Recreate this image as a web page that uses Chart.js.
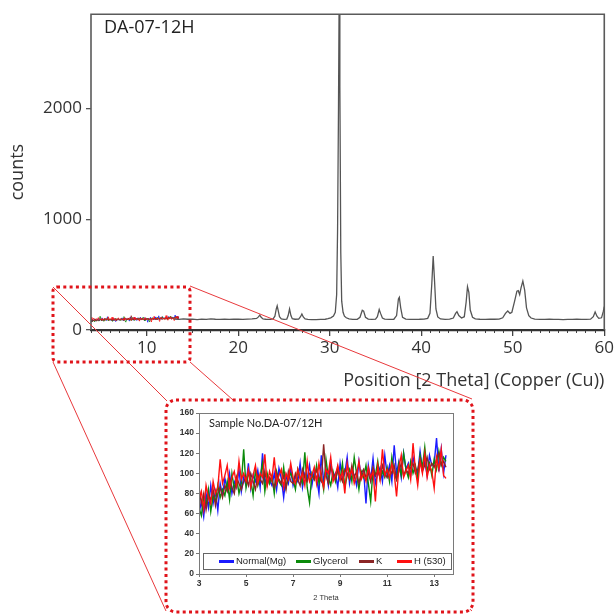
<!DOCTYPE html>
<html>
<head>
<meta charset="utf-8">
<script src="https://cdn.jsdelivr.net/npm/chart.js@4/dist/chart.umd.min.js"></script>
<style>
  html, body { margin:0; padding:0; background:#fff; }
  #wrap { position:relative; width:616px; height:614px; overflow:hidden; background:#fff; }
  #mainCanvas { position:absolute; left:0; top:0; }
  #links { position:absolute; left:0; top:0; }
  #inset { position:absolute; left:166px; top:400px; width:307px; height:212px; background:#fff; border-radius:10px; }
  #insetCanvas { position:absolute; left:0; top:0; }
  #insetBorder { position:absolute; left:0; top:0; pointer-events:none; }
</style>
</head>
<body>
<div id="wrap">
  <canvas id="mainCanvas" width="616" height="400"></canvas>
  <svg id="links" width="616" height="614">
    <g stroke="#e8393c" stroke-width="1" fill="none">
      <line x1="190" y1="286" x2="472" y2="399"/>
      <line x1="53" y1="287" x2="167" y2="401"/>
      <line x1="53" y1="362" x2="166" y2="611"/>
      <line x1="190" y1="362" x2="472" y2="611"/>
    </g>
    <rect x="53" y="287" width="137" height="75" rx="4" ry="4" fill="none" stroke="#e0141b" stroke-width="3" stroke-dasharray="3 3.3"/>
  </svg>
  <div id="inset"><canvas id="insetCanvas" width="307" height="212"></canvas></div>
  <svg id="insetBorder" width="616" height="614">
    <rect x="166" y="400" width="307" height="212" rx="10" ry="10" fill="none" stroke="#e0141b" stroke-width="3" stroke-dasharray="3 3.3"/>
  </svg>
</div>
<script>
// ---------------- DATA ----------------
// main XRD scan: [2theta, counts]
const mainScan = [
  [13.0,98],[13.5,96],[14.0,101],[14.5,97],[15.0,99],[15.5,94],[16.0,98],[16.5,96],[17.0,100],[17.5,97],
  [18.0,95],[18.5,98],[19.0,96],[19.5,99],[20.0,97],[20.5,95],[21.0,98],[21.5,100],[22.0,104],[22.2,118],
  [22.35,135],[22.5,115],[22.7,100],[23.0,97],[23.5,96],[23.8,101],[24.0,125],[24.15,190],[24.25,218],[24.35,180],
  [24.5,120],[24.7,101],[25.0,96],[25.3,99],[25.45,130],[25.6,190],[25.75,130],[25.9,102],[26.2,97],[26.6,98],
  [26.8,120],[26.95,145],[27.1,118],[27.3,100],[27.6,95],[28.0,94],[28.5,93],[29.0,95],[29.5,97],[29.8,102],
  [30.1,110],[30.4,125],[30.6,160],[30.75,320],[30.85,900],[30.95,2000],[31.02,3000],[31.1,2200],[31.2,700],[31.3,260],
  [31.45,160],[31.6,125],[31.8,110],[32.1,100],[32.5,96],[33.0,97],[33.3,115],[33.55,178],[33.7,170],[33.9,115],
  [34.2,98],[34.6,96],[35.0,98],[35.2,120],[35.4,185],[35.55,150],[35.75,108],[36.0,98],[36.5,96],[37.0,97],
  [37.3,130],[37.5,280],[37.6,295],[37.75,200],[37.95,115],[38.3,98],[38.8,95],[39.3,96],[39.8,97],[40.3,99],
  [40.7,105],[40.95,150],[41.15,420],[41.3,668],[41.45,440],[41.6,190],[41.8,118],[42.1,100],[42.6,96],[43.1,98],
  [43.5,108],[43.75,150],[43.9,165],[44.1,130],[44.4,108],[44.7,120],[44.9,250],[45.05,390],[45.2,340],[45.35,180],
  [45.6,115],[45.9,100],[46.4,97],[47.0,96],[47.5,98],[48.0,97],[48.5,99],[48.9,110],[49.2,150],[49.45,172],
  [49.7,150],[49.9,160],[50.2,260],[50.45,350],[50.6,355],[50.75,320],[50.9,380],[51.1,442],[51.3,360],[51.5,200],
  [51.75,130],[52.0,108],[52.4,98],[53.0,96],[53.5,95],[54.0,97],[54.5,95],[55.0,96],[55.5,94],[56.0,96],
  [56.5,95],[57.0,97],[57.5,95],[58.0,96],[58.5,98],[58.8,120],[59.0,162],[59.2,125],[59.4,105],[59.7,110],
  [59.9,170],[60.0,210]
];
const mainXTicks = [10, 20, 30, 40, 50, 60];
const mainXMinorTicks = [4,5,6,7,8,9,10,11,12,13,14,15,16,17,18,19,20,21,22,23,24,25,26,27,28,29,30,31,32,33,34,35,36,37,38,39,40,41,42,43,44,45,46,47,48,49,50,51,52,53,54,55,56,57,58,59,60];
const mainYTicks = [0, 1000, 2000];

// inset low-angle scans
const insetTheta = [
  3.0,3.1,3.2,3.3,3.4,3.5,3.6,3.7,3.8,3.9,
  4.0,4.1,4.2,4.3,4.4,4.5,4.6,4.7,4.8,4.9,
  5.0,5.1,5.2,5.3,5.4,5.5,5.6,5.7,5.8,5.9,
  6.0,6.1,6.2,6.3,6.4,6.5,6.6,6.7,6.8,6.9,
  7.0,7.1,7.2,7.3,7.4,7.5,7.6,7.7,7.8,7.9,
  8.0,8.1,8.2,8.3,8.4,8.5,8.6,8.7,8.8,8.9,
  9.0,9.1,9.2,9.3,9.4,9.5,9.6,9.7,9.8,9.9,
  10.0,10.1,10.2,10.3,10.4,10.5,10.6,10.7,10.8,10.9,
  11.0,11.1,11.2,11.3,11.4,11.5,11.6,11.7,11.8,11.9,
  12.0,12.1,12.2,12.3,12.4,12.5,12.6,12.7,12.8,12.9,
  13.0,13.1,13.2,13.3,13.4,13.5
];
const normalMg = [
  60,72,57,80,66,88,70,82,63,90,
  78,95,84,100,80,92,86,104,82,96,
  88,110,85,98,92,103,86,120,90,97,
  93,88,100,84,105,95,76,98,90,104,
  88,97,92,110,86,100,95,108,88,102,
  96,80,118,92,104,88,112,95,100,86,
  110,94,100,116,90,104,98,88,112,96,
  102,70,108,94,115,90,100,106,92,118,
  98,108,92,128,100,112,96,120,104,110,
  98,116,106,100,122,104,112,98,118,108,
  110,135,102,124,100,118
];
const glycerol = [
  66,58,76,68,84,62,78,72,88,76,
  84,78,92,74,100,84,96,80,90,124,
  86,100,94,78,104,88,96,110,82,100,
  90,98,80,102,92,88,106,86,96,100,
  94,84,104,96,90,121,86,71,100,94,
  108,90,98,84,114,96,88,102,92,106,
  94,110,86,98,104,92,116,100,84,102,
  96,108,90,72,104,98,112,94,102,96,
  106,92,116,100,94,110,98,120,104,96,
  112,100,108,94,118,106,126,102,110,98,
  114,104,122,108,116,112
];
const potassium = [
  86,70,80,64,78,74,84,68,80,86,
  76,88,82,94,86,80,96,90,84,92,
  96,88,100,92,84,98,94,90,102,88,
  96,92,86,100,94,90,98,84,102,92,
  90,100,94,88,104,96,92,100,98,94,
  104,96,92,129,98,90,106,100,94,102,
  98,92,104,100,94,108,96,102,90,100,
  104,96,100,92,106,98,102,96,108,100,
  96,104,100,108,94,102,110,98,104,100,
  106,110,100,104,114,102,108,116,104,110,
  106,114,120,108,112,106
];
const heated530 = [
  74,82,64,88,76,70,92,80,86,114,
  90,98,108,86,96,102,88,112,94,100,
  92,104,86,98,108,90,100,96,119,88,
  102,94,116,90,98,104,86,100,94,110,
  96,90,104,94,100,88,112,92,98,106,
  90,110,96,86,104,100,116,92,98,108,
  94,102,80,110,96,104,90,98,112,94,
  100,92,106,96,102,72,108,94,124,98,
  104,96,110,100,77,106,118,96,102,108,
  94,130,104,88,112,100,120,96,108,102,
  85,116,104,124,98,95
];
const insetXTicks = [3, 5, 7, 9, 11, 13];
const insetYTicks = [0, 20, 40, 60, 80, 100, 120, 140, 160];
const insetSeries = [
  { label: 'Normal(Mg)', values: normalMg,  color: '#1a1aff' },
  { label: 'Glycerol',   values: glycerol,  color: '#0a8a0a' },
  { label: 'K',          values: potassium, color: '#8b2525' },
  { label: 'H (530)',    values: heated530, color: '#ff1010' }
];

// ---------------- HELPERS ----------------
const toPoints = vals => vals.map((v, i) => ({ x: insetTheta[i], y: v }));
const plainNum = v => String(v);

const mainFrame = {
  id: 'mainFrame',
  afterDatasetsDraw(chart) {
    const { ctx, chartArea: a } = chart;
    ctx.save();
    ctx.strokeStyle = '#5a5a5a';
    ctx.lineWidth = 1.6;
    ctx.beginPath();
    ctx.moveTo(a.left, a.bottom);
    ctx.lineTo(a.left, a.top);
    ctx.lineTo(a.right, a.top);
    ctx.lineTo(a.right, a.bottom);
    ctx.stroke();
    ctx.fillStyle = '#222';
    ctx.font = '18px "Open Sans"';
    ctx.textBaseline = 'middle';
    ctx.textAlign = 'left';
    ctx.fillText('DA-07-12H', a.left + 13, a.top + 14);
    ctx.restore();
  }
};

const insetDecor = {
  id: 'insetDecor',
  afterDatasetsDraw(chart) {
    const { ctx, chartArea: a } = chart;
    ctx.save();
    ctx.strokeStyle = '#7a7a7a';
    ctx.lineWidth = 1;
    ctx.strokeRect(a.left + 0.5, a.top + 0.5, a.right - a.left, a.bottom - a.top);
    // title
    ctx.fillStyle = '#222';
    ctx.font = '11px Lato';
    ctx.textBaseline = 'middle';
    ctx.fillText('Sample No.DA-07/12H', a.left + 10, a.top + 10);
    // legend box
    const bx = a.left + 4, by = a.bottom - 21, bw = a.right - a.left - 6, bh = 16;
    ctx.fillStyle = '#fff';
    ctx.fillRect(bx, by, bw, bh);
    ctx.strokeStyle = '#666';
    ctx.strokeRect(bx + 0.5, by + 0.5, bw, bh);
    const starts = [16, 93, 156, 194];
    ctx.font = '9.5px "Liberation Sans"';
    chart.data.datasets.forEach((ds, i) => {
      const x0 = bx + starts[i];
      const yc = by + bh / 2 + 0.5;
      ctx.strokeStyle = ds.borderColor;
      ctx.lineWidth = 3;
      ctx.beginPath();
      ctx.moveTo(x0, yc);
      ctx.lineTo(x0 + 15, yc);
      ctx.stroke();
      ctx.fillStyle = '#222';
      ctx.fillText(ds.label, x0 + 17, yc);
    });
    ctx.restore();
  }
};

// later series drawn on top (as in the original spreadsheet plot)
const seriesOrder = i => insetSeries.length - 1 - i;

// ---------------- MAIN CHART ----------------
new Chart(document.getElementById('mainCanvas'), {
  type: 'line',
  data: {
    datasets: [
      ...insetSeries.map((s, i) => ({
        label: s.label, data: toPoints(s.values), borderColor: s.color,
        borderWidth: 0.8, pointRadius: 0, tension: 0, order: seriesOrder(i) + 1
      })),
      {
        label: 'DA-07-12H',
        data: mainScan.map(p => ({ x: p[0], y: p[1] })),
        borderColor: '#555',
        borderWidth: 1.3,
        pointRadius: 0,
        tension: 0,
        order: 0
      }
    ]
  },
  options: {
    animation: false,
    responsive: false,
    layout: { padding: { left: 0, right: 9, top: 13, bottom: 0 } },
    plugins: { legend: { display: false }, tooltip: { enabled: false } },
    scales: {
      xMinor: {
        type: 'linear', position: 'bottom', axis: 'x', weight: 0,
        min: 3.9, max: 60,
        afterBuildTicks: ax => { ax.ticks = mainXMinorTicks.map(v => ({ value: v })); },
        ticks: { display: false },
        grid: { drawOnChartArea: false, drawTicks: true, tickLength: 3, color: '#444', lineWidth: 1 },
        border: { display: false },
        afterFit: s => { s.height = 0; }
      },
      x: {
        type: 'linear', position: 'bottom', weight: 1,
        min: 3.9, max: 60,
        afterBuildTicks: ax => { ax.ticks = mainXTicks.map(v => ({ value: v })); },
        ticks: { font: { family: 'Open Sans', size: 17 }, color: '#333', padding: 2, maxRotation: 0, autoSkip: false, callback: plainNum },
        grid: { drawOnChartArea: false, drawTicks: true, tickLength: 6, color: '#444', lineWidth: 1.3 },
        border: { display: true, color: '#333', width: 2.2 },
        title: {
          display: true, text: 'Position [2 Theta] (Copper (Cu))', align: 'end',
          font: { family: 'Open Sans', size: 18 }, color: '#333', padding: { top: 0, bottom: 8 }
        },
        afterFit: s => { s.height = 70; }
      },
      y: {
        type: 'linear', position: 'left',
        min: 0, max: 2850,
        afterBuildTicks: ax => { ax.ticks = mainYTicks.map(v => ({ value: v })); },
        ticks: { font: { family: 'Open Sans', size: 17 }, color: '#333', padding: 4, callback: plainNum },
        grid: { drawOnChartArea: false, drawTicks: true, tickLength: 5, color: '#555', lineWidth: 1.3 },
        border: { display: false },
        title: {
          display: true, text: 'counts',
          font: { family: 'Open Sans', size: 18 }, color: '#333', padding: { top: 7, bottom: 0 }
        },
        afterFit: s => { s.width = 91; }
      }
    }
  },
  plugins: [mainFrame]
});

// ---------------- INSET CHART ----------------
new Chart(document.getElementById('insetCanvas'), {
  type: 'line',
  data: {
    datasets: insetSeries.map((s, i) => ({
      label: s.label, data: toPoints(s.values), borderColor: s.color,
      borderWidth: 1.4, pointRadius: 0, tension: 0, order: seriesOrder(i)
    }))
  },
  options: {
    animation: false,
    responsive: false,
    layout: { padding: { left: 0, right: 20, top: 13, bottom: 0 } },
    plugins: { legend: { display: false }, tooltip: { enabled: false } },
    scales: {
      x: {
        type: 'linear', min: 3, max: 13.8,
        afterBuildTicks: ax => { ax.ticks = insetXTicks.map(v => ({ value: v })); },
        ticks: { font: { family: 'Liberation Sans', size: 8.5, weight: 'bold' }, color: '#333', padding: 2, maxRotation: 0, autoSkip: false, callback: plainNum },
        grid: { drawOnChartArea: false, drawTicks: true, tickLength: 3, color: '#777' },
        border: { display: false },
        title: { display: true, text: '2 Theta', font: { family: 'Liberation Sans', size: 7.5 }, color: '#333', padding: { top: 0, bottom: 10 } },
        afterFit: s => { s.height = 38; }
      },
      y: {
        type: 'linear', min: 0, max: 160,
        afterBuildTicks: ax => { ax.ticks = insetYTicks.map(v => ({ value: v })); },
        ticks: { font: { family: 'Liberation Sans', size: 8.5, weight: 'bold' }, color: '#333', padding: 2, autoSkip: false, callback: plainNum },
        grid: { drawOnChartArea: false, drawTicks: true, tickLength: 3, color: '#777' },
        border: { display: false },
        afterFit: s => { s.width = 33; }
      }
    }
  },
  plugins: [insetDecor]
});
</script>
</body>
</html>
